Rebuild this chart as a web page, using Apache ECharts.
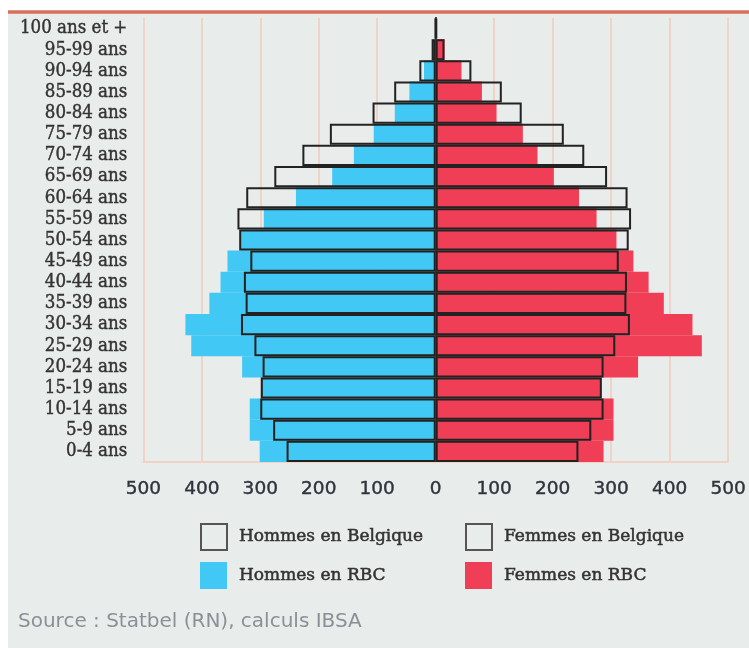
<!DOCTYPE html>
<html>
<head>
<meta charset="utf-8">
<script src="https://cdn.jsdelivr.net/npm/echarts@6/dist/echarts.min.js"></script>
<style>
html,body{margin:0;padding:0;background:#ffffff;}
#chart{width:749px;height:648px;}
</style>
</head>
<body>
<div id="chart"></div>
<script>
// Age groups, bottom (youngest) to top (oldest)
const ageGroups = ['0-4 ans','5-9 ans','10-14 ans','15-19 ans','20-24 ans','25-29 ans','30-34 ans','35-39 ans','40-44 ans','45-49 ans','50-54 ans','55-59 ans','60-64 ans','65-69 ans','70-74 ans','75-79 ans','80-84 ans','85-89 ans','90-94 ans','95-99 ans','100 ans et +'];
const hommesRBC = [301, 318, 318, 299, 331, 418, 428, 387, 368, 356, 333, 294, 239, 177, 140, 106, 70, 45, 20, 5, 1];
const femmesRBC = [287, 304, 304, 283, 346, 455, 439, 390, 364, 338, 309, 275, 245, 202, 174, 149, 104, 79, 44, 15, 2];
const hommesBelgique = [255, 278, 300, 299, 296, 310, 333, 325, 328, 317, 336, 339, 324, 276, 228, 181, 108, 71, 28, 7, 1];
const femmesBelgique = [244, 266, 287, 284, 287, 307, 332, 326, 327, 313, 330, 334, 328, 293, 254, 219, 147, 113, 61, 15, 2];
const xTicks = [-500, -400, -300, -200, -100, 0, 100, 200, 300, 400, 500];
const sourceText = 'Source : Statbel (RN), calculs IBSA';

const BLUE = '#42c8f4', RED = '#ef3e55';
const legendFont = {fontFamily: 'DejaVu Serif', fontSize: 17, color: '#333333', padding: [0,0,0,7],
  textBorderColor: '#333333', textBorderWidth: 0.5};
const outlineStyle = {color: 'rgba(0,0,0,0)', borderColor: '#555555', borderWidth: 2};

const chart = echarts.init(document.getElementById('chart'), null, {renderer: 'canvas'});
chart.setOption({
  animation: false,
  backgroundColor: '#ffffff',
  graphic: [
    {type: 'rect', z: -10, shape: {x: 8, y: 13, width: 741, height: 635}, style: {fill: '#e8eceb'}},
    {type: 'line', z: -9, shape: {x1: 8, y1: 12, x2: 749, y2: 12}, style: {stroke: '#d8705b', lineWidth: 3.5}}
  ],
  title: {
    text: sourceText, left: 18, top: 612, padding: 0,
    textStyle: {fontFamily: 'DejaVu Sans', fontSize: 20, fontWeight: 'normal', color: '#8c9096'}
  },
  legend: [
    {left: 200, top: 523, padding: 0, itemWidth: 26, itemHeight: 26, textStyle: legendFont,
     data: [{name: 'Hommes en Belgique', icon: 'rect', itemStyle: outlineStyle}]},
    {left: 465, top: 523, padding: 0, itemWidth: 26, itemHeight: 26, textStyle: legendFont,
     data: [{name: 'Femmes en Belgique', icon: 'rect', itemStyle: outlineStyle}]},
    {left: 200, top: 562, padding: 0, itemWidth: 27, itemHeight: 27, textStyle: legendFont,
     data: [{name: 'Hommes en RBC', icon: 'rect'}]},
    {left: 465, top: 562, padding: 0, itemWidth: 27, itemHeight: 27, textStyle: legendFont,
     data: [{name: 'Femmes en RBC', icon: 'rect'}]}
  ],
  grid: {left: 143.3, right: 15.2, top: 18, bottom: 186, containLabel: false},
  xAxis: {
    type: 'value', min: -500, max: 500, interval: 100,
    axisLine: {show: true, onZero: false, lineStyle: {color: '#efd3c6', width: 2}},
    axisTick: {show: false},
    splitLine: {show: true, lineStyle: {color: '#efd3c6', width: 2}},
    axisLabel: {
      margin: 18, fontFamily: 'DejaVu Sans', fontSize: 18.5, color: '#30333b',
      textBorderColor: '#30333b', textBorderWidth: 0.4,
      formatter: v => String(Math.abs(v))
    }
  },
  yAxis: {
    type: 'category', data: ageGroups,
    axisLine: {show: true, onZero: true, lineStyle: {color: '#111111', width: 2}},
    axisTick: {show: false},
    splitLine: {show: false},
    axisLabel: {
      fontFamily: 'DejaVu Serif Condensed', fontSize: 18.5, color: '#333333', margin: 16,
      textBorderColor: '#333333', textBorderWidth: 0.4,
      interval: 0
    }
  },
  series: [
    {name: 'Hommes en RBC', type: 'bar', barGap: '-100%', barCategoryGap: '0%',
     data: hommesRBC.map(v => -v), itemStyle: {color: BLUE}},
    {name: 'Femmes en RBC', type: 'bar', barGap: '-100%', barCategoryGap: '0%',
     data: femmesRBC, itemStyle: {color: RED}},
    {name: 'Hommes en Belgique', type: 'bar', barGap: '-100%', barCategoryGap: '0%',
     data: hommesBelgique.map(v => -v), itemStyle: {color: 'rgba(0,0,0,0)', borderColor: '#222222', borderWidth: 2}},
    {name: 'Femmes en Belgique', type: 'bar', barGap: '-100%', barCategoryGap: '0%',
     data: femmesBelgique, itemStyle: {color: 'rgba(0,0,0,0)', borderColor: '#222222', borderWidth: 2}}
  ]
});
</script>
</body>
</html>
